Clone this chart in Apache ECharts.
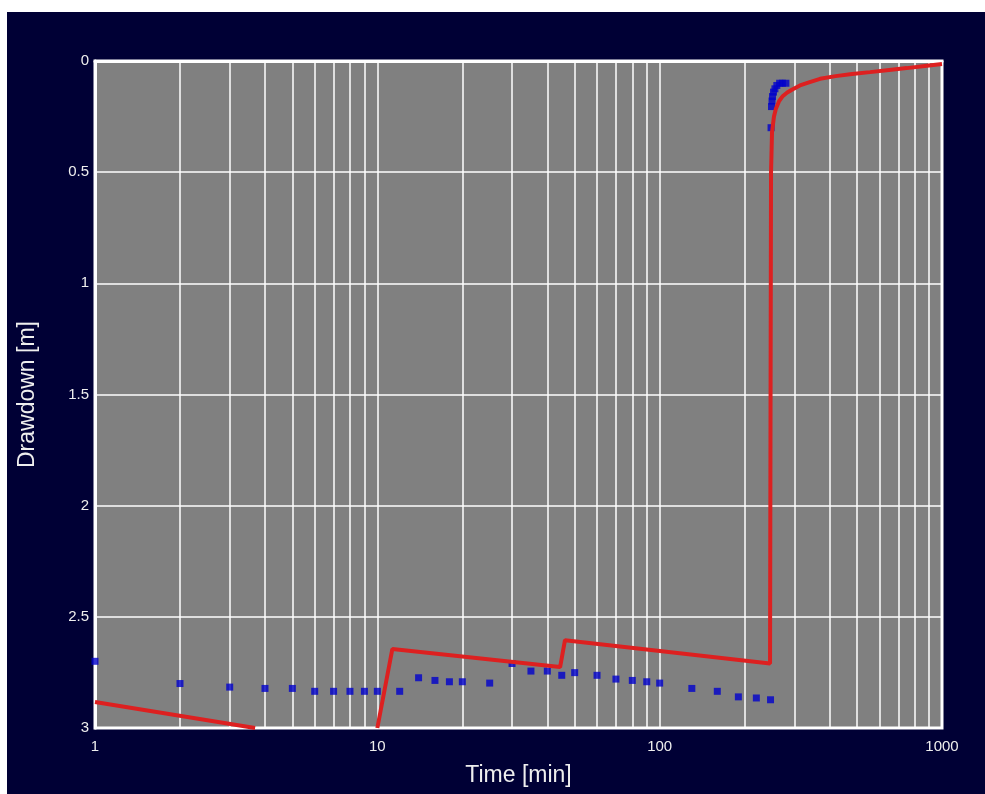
<!DOCTYPE html>
<html>
<head>
<meta charset="utf-8">
<script src="https://cdn.jsdelivr.net/npm/echarts@6/dist/echarts.min.js"></script>
<style>
html,body{margin:0;padding:0;background:#ffffff;width:985px;height:794px;overflow:hidden;}
#chart{position:absolute;left:7px;top:12px;width:978px;height:782px;}
</style>
</head>
<body>
<div id="chart"></div>
<script>
// Observed drawdown (blue squares)
const obsTime = [1, 2, 3, 4, 5, 6, 7, 8, 9, 10, 12, 14, 16, 18, 20, 25, 30, 35, 40, 45, 50, 60, 70, 80, 90, 100, 130, 160, 190, 220, 247,
                 248, 249, 250, 251, 253, 256, 260, 266, 272, 280];
const obsDrawdown = [2.70, 2.80, 2.816, 2.822, 2.822, 2.835, 2.835, 2.835, 2.835, 2.835, 2.835, 2.774, 2.786, 2.792, 2.792, 2.798, 2.71, 2.744, 2.744, 2.763, 2.751, 2.763, 2.78, 2.786, 2.792, 2.798, 2.822, 2.835, 2.86, 2.865, 2.873,
                     0.30, 0.205, 0.18, 0.16, 0.14, 0.125, 0.11, 0.10, 0.10, 0.10];

// Model curve (red line); '-' breaks the line where it leaves the plot
const modelTime = [1, 3.69, '-', 10, 11.3, 44.4, 46.2, 246, 247, 248, 250, 254, 258, 265, 272, 283, 295, 314, 340, 370, 420, 480, 556, 650, 750, 870, 1000];
const modelDrawdown = [2.883, 3.0, '-', 3.0, 2.645, 2.726, 2.605, 2.71, 1.56, 0.50, 0.32, 0.25, 0.215, 0.18, 0.16, 0.142, 0.128, 0.11, 0.095, 0.08, 0.068, 0.058, 0.05, 0.04, 0.032, 0.022, 0.013];

// Minor vertical grid positions on the log time axis
const minorGridTimes = [2, 3, 4, 5, 6, 7, 8, 9, 20, 30, 40, 50, 60, 70, 80, 90, 200, 300, 400, 500, 600, 700, 800, 900];

const xTickLabels = [1, 10, 100, 1000];
const yTicks = [0, 0.5, 1, 1.5, 2, 2.5, 3];

const chart = echarts.init(document.getElementById('chart'), null, {renderer: 'canvas'});

const obsData = obsTime.map((t, i) => [t, obsDrawdown[i]]);
const modelData = modelTime.map((t, i) => (t === '-' ? ['-', '-'] : [t, modelDrawdown[i]]));

const labelFont = 'Liberation Sans, Arial, sans-serif';

chart.setOption({
  backgroundColor: '#000035',
  animation: false,
  grid: {
    left: 88, right: 43, top: 49, bottom: 66,
    show: true,
    backgroundColor: '#808080',
    borderColor: '#ffffff',
    borderWidth: 3
  },
  xAxis: {
    type: 'log',
    logBase: 10,
    min: 1,
    max: 1000,
    name: 'Time [min]',
    nameLocation: 'middle',
    nameGap: 36,
    nameTextStyle: {color: '#eeeeee', fontSize: 23, fontFamily: labelFont},
    axisLine: {show: true, lineStyle: {color: '#ffffff', width: 3}},
    axisTick: {show: false},
    axisLabel: {
      color: '#eeeeee', fontSize: 15, fontFamily: labelFont, margin: 11,
      formatter: v => {
        const r = Math.round(v);
        return xTickLabels.includes(r) ? String(r) : '';
      }
    },
    splitLine: {show: true, lineStyle: {color: '#ffffff', width: 1.5}},
    minorTick: {show: false},
    minorSplitLine: {show: false}
  },
  yAxis: {
    type: 'value',
    inverse: true,
    min: 0,
    max: 3,
    interval: 0.5,
    name: 'Drawdown [m]',
    nameLocation: 'middle',
    nameGap: 56,
    nameTextStyle: {color: '#eeeeee', fontSize: 23, fontFamily: labelFont},
    axisLine: {show: true, lineStyle: {color: '#ffffff', width: 3}},
    axisTick: {show: false},
    axisLabel: {
      color: '#eeeeee', fontSize: 15, fontFamily: labelFont, margin: 6,
      formatter: v => (yTicks.includes(v) ? String(v) : '')
    },
    splitLine: {show: true, lineStyle: {color: '#ffffff', width: 1.5}}
  },
  series: [
    {
      name: 'minorGrid',
      type: 'line',
      data: [],
      z: 1,
      silent: true,
      markLine: {
        silent: true,
        z: 1,
        symbol: ['none', 'none'],
        label: {show: false},
        lineStyle: {color: '#ffffff', width: 1.5, type: 'solid'},
        emphasis: {disabled: true},
        data: minorGridTimes.map(t => ({xAxis: t}))
      }
    },
    {
      name: 'Observed',
      type: 'scatter',
      data: obsData,
      symbol: 'rect',
      symbolSize: 7,
      itemStyle: {color: '#0000cc'},
      z: 6
    },
    {
      name: 'Model',
      type: 'line',
      data: modelData,
      showSymbol: false,
      symbol: 'none',
      connectNulls: false,
      clip: true,
      lineStyle: {color: '#dd2020', width: 4},
      z: 7
    }
  ]
});
</script>
</body>
</html>
